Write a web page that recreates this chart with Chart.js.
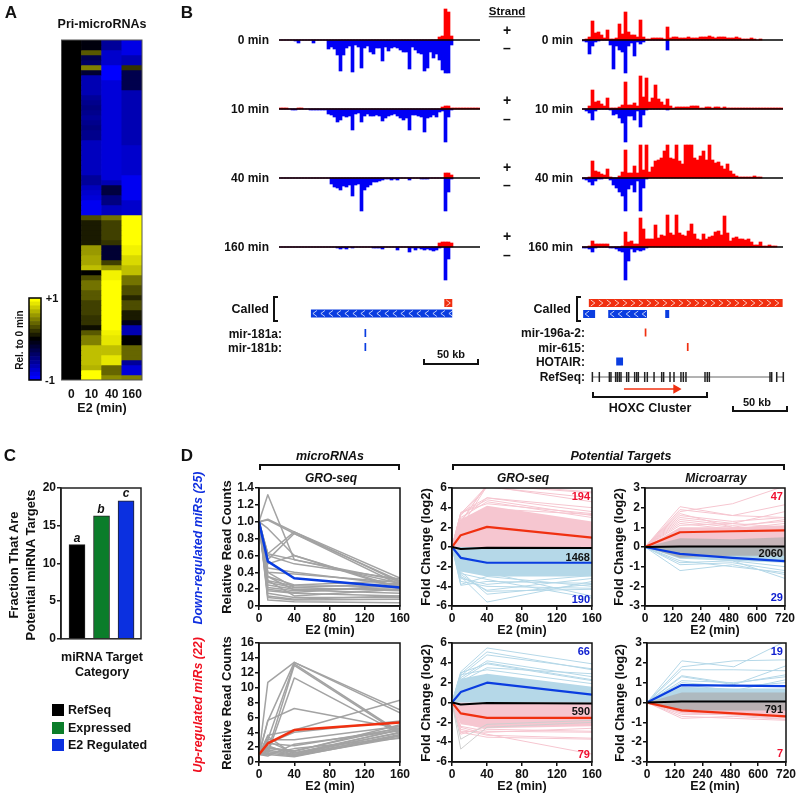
<!DOCTYPE html>
<html>
<head>
<meta charset="utf-8">
<script src="https://cdn.jsdelivr.net/npm/chart.js@4"></script>
<style>
html,body{margin:0;padding:0;background:#fff}
#page{position:relative;width:800px;height:796px;overflow:hidden;font-family:"Liberation Sans",Arial,sans-serif;font-weight:bold;color:#111;filter:blur(.35px)}
canvas{position:absolute}
.t{position:absolute;white-space:nowrap;line-height:1}
.b{position:absolute;border:0 solid #111;box-sizing:border-box}
</style>
</head>
<body>
<div id="page"></div>
<script>
// A: heatmap, 68 rows, values relative to 0 min
const heatCols = ['0', '10', '40', '160'];
const heat10 = [-.05,-.05,.35,-.3,-.4,.5,-.2,-.7,-.7,-.7,-.7,-.6,-.55,-.5,-.55,-.6,-.55,-.5,-.55,-.55,-.75,-.75,-.75,-.75,-.75,-.75,-.75,-.6,-.6,-.75,-.8,-.85,-.95,-.95,-.95,
  .3,.1,.1,.1,.1,.1,.6,.6,.65,.65,.75,0,.3,.45,.45,.35,.35,.25,.25,.25,.2,.2,.05,.35,.5,.5,.75,.75,.75,.75,.7,1,1];
const heat40 = [-.6,-.6,-.8,-.8,-.8,-1,-1,-1,-.85,-.85,-.85,-.85,-.85,-.85,-.85,-.85,-.85,-.85,-.85,-.85,-.85,-.85,-.85,-.85,-.85,-.85,-.85,-.85,-.7,-.25,-.25,-.5,-.5,-.75,-.75,
  .45,.25,.25,.25,.25,.2,-.2,-.2,-.2,.25,.6,.95,.95,1,1,1,1,1,1,1,1,1,1,.95,.9,.9,.75,.75,.9,.9,.4,.4,.55];
const heat160 = [-.9,-.9,-.9,-.7,-.7,.2,-.3,-.3,-.3,-.3,-.7,-.7,-.7,-.7,-.7,-.7,-.7,-.7,-.7,-.7,-.7,-.8,-.8,-.8,-.8,-.8,-.8,-.95,-.95,-.95,-.95,-.95,-.8,-.8,-.8,
  1,1,1,1,1,1,.95,.95,.85,.85,.75,.75,.45,.45,.3,.3,.15,.3,.3,.1,.1,-.1,-.7,-.7,0,0,.4,.4,.4,-.6,-.85,-.85,.5];
const barLevels = [-1,-.9,-.8,-.7,-.6,-.5,-.4,-.3,-.2,-.1,0,.1,.2,.3,.4,.5,.6,.7,.8,.9,1];

// B: read coverage per 3 px bin, in track units
const trackBins = Array.from({length: 67}, (_, i) => i);
const left0Plus = [0,0,0,0,0,0,0,0,0,0,0,0,0,0,0,0,0,0,0,0,0,0,0,0,0,0,0,0,0,0,0,0,0,0,0,0,0,0,0,0,0,0,0,0,0,0,0,0,0,0,0,0,0,3,4,31,28,4];
const left0Minus = [0,0,0,0,0,1,3,0,0,0,0,3,0,0,0,0,9,7,9,15,31,15,8,6,32,5,7,28,8,6,12,14,8,8,21,7,11,8,7,8,10,12,12,29,7,10,13,14,31,28,12,18,14,20,30,33,33,5];
const left10Plus = [1,1,1,0,0,0,1,1,0,0,0,0,0,0,0,0,0,0,0,0,0,0,0,0,0,0,0,0,0,0,0,0,0,0,0,0,0,0,0,0,0,0,0,0,0,0,0,0,0,0,0,0,0,0,2,3,3,1,1,1,1,1,1,1,1,1,1];
const left10Minus = [0,0,0,0,1,1,0,0,0,0,1,1,1,1,1,1,5,6,8,13,11,7,8,7,21,5,4,13,7,5,7,7,6,7,12,9,7,6,5,7,9,11,9,21,6,6,7,8,23,9,8,6,8,3,2,33,8,1];
const left40Plus = [0,0,0,0,0,0,0,0,0,0,0,0,0,0,0,0,0,0,0,0,0,0,0,0,0,0,0,0,0,0,0,0,0,0,0,0,0,0,0,0,0,0,0,0,0,0,0,0,0,0,0,0,0,0,0,5,5,3];
const left40Minus = [0,0,0,0,0,0,0,0,0,0,0,0,0,0,0,0,0,6,9,10,12,8,9,7,18,7,6,33,12,9,7,4,4,3,2,1,1,2,1,2,0,0,0,2,0,0,0,1,1,1,0,0,0,0,0,33,14,1];
const left160Plus = [0,0,0,0,0,0,0,0,0,0,0,0,0,0,0,0,0,0,0,0,0,0,0,0,0,0,0,0,0,0,0,0,0,0,0,0,0,0,0,0,0,0,0,0,0,0,0,0,0,0,0,0,0,4,5,5,5,4];
const left160Minus = [0,0,0,0,0,0,0,0,0,0,0,0,0,0,0,0,0,0,0,1,2,1,2,0,1,0,0,0,0,0,0,1,1,1,2,0,0,0,0,3,0,0,0,5,1,3,1,2,3,2,3,4,3,1,0,33,12];
const right0Plus = [0,1,3,19,7,8,5,2,10,1,1,2,16,6,28,8,5,5,3,20,3,1,1,2,2,2,2,1,13,2,3,3,2,2,2,3,2,2,2,3,3,3,4,3,2,3,3,3,2,2,2,3,2,1,1,1,2,1,0,1];
const right0Minus = [1,2,14,6,2,1,0,0,0,5,29,6,10,12,33,6,3,16,2,4,2,0,0,0,0,0,0,0,10];
const right10Plus = [0,0,3,19,7,8,5,3,11,1,1,1,2,4,27,4,4,6,3,33,12,31,7,11,24,10,7,4,10,3,1,2,2,2,2,2,3,3,3,1,1,2,2,1,2,2,1,2,1,1,1,1,1,1,1,1,1,1,1,1,1,1,1,1,1,1,1];
const right10Minus = [0,2,4,11,2,0,0,0,0,1,6,5,9,14,33,7,7,11,2,18,6,1,0,0,0,0,0,0,1];
const right40Plus = [0,0,1,17,7,6,4,3,9,1,0,0,2,6,28,5,5,12,5,33,8,33,6,11,17,18,20,27,33,20,19,33,17,14,33,33,33,20,18,22,27,18,33,18,15,16,12,9,14,7,4,2,1,1,1,1,1,2,1,1];
const right40Minus = [1,2,4,7,3,1,1,0,0,2,7,10,14,18,33,11,7,14,3,33,10,1];
const right160Plus = [0,0,1,6,3,3,3,3,3,0,0,0,0,1,15,5,6,3,3,29,18,8,8,8,22,9,12,11,32,14,12,32,14,12,11,16,23,13,8,7,13,8,10,11,15,16,12,31,14,6,9,10,8,8,7,8,5,2,2,5,1,1,2,1,1];
const right160Minus = [1,1,2,5,1,0,0,0,0,1,1,2,4,5,33,14,2,5,3,4,3,1];

// B: genome features, positions in kb from the left of each locus
const calledLeftPlus = [[145, 152]];
const calledLeftMinus = [[28, 152]];
const mirLeft = [[75, 76.5]];
const calledRightPlus = [[6, 176]];
const calledRightMinus = [[1, 11.5], [23, 57], [73, 76.5]];
const mir196 = [[55, 56.5]];
const mir615 = [[92, 93.5]];
const hotair = [[30, 36]];
const refseqExons = [9.1,15.2,24,25.4,29.5,31,32.7,34.2,39.2,40.9,46.2,48,49.4,55,57.3,63.2,69.9,71.6,77.2,80.7,86.8,88.9,91.2,107.9,109.9,111.7,164.9,166.4,170.8,176.6];
const refseqIntrons = [[9.1, 166.4], [170.8, 176.6]];
const hoxcArrow = [36.8, 82.5];

// C: bars
const targetCats = ['RefSeq', 'Expressed', 'E2 Regulated'];
const targetVals = [12.5, 16.3, 18.3];
const targetColors = ['#000000', '#0b7d2a', '#0b30e0'];

// D: time axes
const xsGro = [0, 10, 40, 160];
const xsArray = [0, 180, 450, 720];
const arrayTickLabels = ['0', '120', '240', '480', '600', '720'];

// D: microRNA GRO-seq, values at 10, 40, 160 min (all start at 1)
const downMirs = [[1.32,.55,.30],[1.03,.88,.28],[1.02,.86,.25],[.92,.60,.22],[.62,.88,.33],[.55,.86,.30],[.50,.60,.20],[.62,.55,.27],[.60,.50,.32],[.45,.40,.25],[.40,.38,.28],[.35,.25,.30],[.30,.24,.23],[.28,.22,.18],[.25,.20,.20],[.22,.18,.22],[.20,.16,.25],[.18,.15,.12],[.15,.10,.10],[.12,.08,.12],[.10,.07,.08],[.07,.05,.04],[.30,.12,.20],[.40,.22,.27],[.35,.19,.15]];
const downMean = [.53, .33, .22];
const upMirs = [[10.7,13.4,7.0],[5.5,13.4,6.6],[3.0,13.2,4.0],[1.5,13.0,3.8],[1.2,11.3,3.8],[5.6,7.2,4.5],[3.6,4.3,8.3],[2.5,4.0,5.5],[3.0,3.0,4.8],[2.5,2.2,4.5],[1.8,1.4,5.0],[2.0,1.2,4.3],[1.6,1.0,4.0],[1.4,.9,3.6],[1.2,.8,3.3],[1.0,.7,3.5],[2.8,1.2,3.9],[1.9,1.5,4.6],[1.1,1.8,3.2],[.8,2.4,4.2],[3.4,1.0,4.4],[2.2,.9,3.7]];
const upMean = [2.5, 4.3, 5.3];

// D: targets, GRO-seq, down-regulated miRs
const groDownPink = [[3.5,5.0,3.6],[3.4,4.8,3.2],[3.0,4.6,3.0],[3.4,6.2,4.6],[2.5,6.4,5.6],[2.0,6.2,6.2],[2.6,6.3,5.5],[3.2,6.1,5.0],[2.8,5.0,4.0],[3.5,4.4,3.4],[2.2,3.9,3.3]];
const groDownBlue = [[-3.8,-3.0,-4.0],[-3.5,-4.0,-4.2],[-3.0,-5.6,-3.5],[-2.5,-4.8,-3.8],[-3.9,-3.5,-3.7],[-2.8,-4.5,-4.3],[-3.2,-3.8,-2.9],[-2.4,-2.6,-5.0],[-2.7,-3.3,-5.2],[-3.0,-4.4,-3.2]];
const groDownPinkBand = [2.8, 4.2, 2.6];
const groDownBlueBand = [-2.5, -3.0, -3.0];
const groDownMeans = {up: [1.2, 2.05, .95], down: [-1.1, -1.6, -1.6], flat: [-.2, -.08, -.1]};

// D: targets, GRO-seq, up-regulated miRs
const groUpBlue = [[3.1,5.5,3.9],[2.9,5.1,3.3],[2.7,4.8,3.4],[2.5,4.2,2.6],[2.3,4.0,2.3],[3.0,3.9,2.2],[2.1,3.5,2.9],[2.8,3.3,1.9]];
const groUpPink = [[-3,-3.5,-3.7],[-2.7,-3.3,-3.6],[-2.5,-3.2,-5.2],[-2.4,-2.9,-3.0],[-2.9,-3.0,-2.6],[-2.0,-2.7,-2.9],[-3.2,-2.4,-2.2]];
const groUpGray = [[-4.7,-2.5,-2.0],[-3.7,-2.2,-1.8]];
const groUpBlueBand = [2.4, 2.9, 1.6];
const groUpPinkBand = [-2.2, -2.6, -2.4];
const groUpMeans = {up: [1.05, 2.0, .8], down: [-1.1, -1.55, -1.55], flat: [-.2, -.05, -.1]};

// D: targets, microarray, down-regulated miRs
const arrDownPink = [[2.05,1.6,2.15],[1.9,1.6,1.5],[1.8,2.2,3.1],[1.6,1.3,1.5],[1.5,1.2,1.8],[1.4,1.1,1.3],[1.3,1.0,1.4],[1.2,.9,1.2],[1.1,1.2,1.0],[1.7,1.0,.9]];
const arrDownBlue = [[-1.2,-.9,-1.4],[-.8,-.7,-1.6],[-.9,-.8,-1.2],[-.7,-1.0,-1.3],[-.5,-.7,-1.0]];
const arrDownPinkBand = [1.0, 1.0, 1.1];
const arrDownBlueBand = [-.6, -.7, -.8];
const arrDownGrayHigh = [.45, .4, .5];
const arrDownGrayLow = [-.55, -.45, -.45];
const arrDownMeans = {up: [.75, .8, .85], down: [-.35, -.55, -.72], flat: [.02, .02, .03]};

// D: targets, microarray, up-regulated miRs
const arrUpBlue = [[2.1,1.8,3.1],[1.8,2.1,2.15],[1.65,1.65,1.6],[1.3,.9,1.85],[1.35,.95,1.4],[1.1,1.0,1.3],[1.0,.8,1.0],[.9,.6,1.15]];
const arrUpPink = [[-.8,-.7,-.85],[-.6,-.6,-.85],[-.7,-.8,-.9]];
const arrUpBlueBand = [.8, .7, .7];
const arrUpPinkBand = [-.55, -.65, -.8];
const arrUpGrayHigh = [.5, .5, .5];
const arrUpGrayLow = [-.4, -.4, -.4];
const arrUpMeans = {up: [.88, .85, .83], down: [-.4, -.55, -.7], flat: [.05, .05, .05]};

const page = document.getElementById('page');
const RED = '#f03010', BLUE = '#0a3de0', PINK = '#f6c6d0', SKY = '#b5d8e8', GRAY = '#a3a3a3';

Chart.defaults.font.family = '"Liberation Sans", Arial, sans-serif';
Chart.defaults.font.weight = 'bold';
Chart.defaults.font.size = 12;
Chart.defaults.color = '#111';
Chart.defaults.animation = false;
Chart.defaults.responsive = false;
Chart.defaults.layout.autoPadding = false;
Chart.defaults.plugins.legend.display = false;
Chart.defaults.plugins.tooltip.enabled = false;

// box round the plot area and zero line for the tracks
const framePlugin = {
  id: 'frame',
  afterDatasetsDraw(chart, args, o) {
    const a = chart.chartArea, c = chart.ctx;
    c.save();
    if (o.box) {
      c.strokeStyle = o.box;
      c.lineWidth = o.width || 1.5;
      c.strokeRect(a.left, a.top, a.right - a.left, a.bottom - a.top);
    }
    if (o.zero) {
      const y = chart.scales.y.getPixelForValue(0);
      c.strokeStyle = '#000';
      c.lineWidth = 1.5;
      c.beginPath();
      c.moveTo(a.left, y);
      c.lineTo(a.right, y);
      c.stroke();
    }
    c.restore();
  }
};

// white chevrons on the called regions
const chevronPlugin = {
  id: 'chevrons',
  afterDatasetsDraw(chart) {
    const c = chart.ctx;
    chart.data.datasets.forEach((d, i) => {
      if (!d.chevron) return;
      const pts = chart.getDatasetMeta(i).data;
      const x0 = pts[0].x, x1 = pts[1].x, y = pts[0].y;
      c.save();
      c.strokeStyle = 'rgba(255,255,255,.75)';
      c.lineWidth = 1;
      for (let x = x0 + 4; x < x1 - 1; x += 8) {
        c.beginPath();
        c.moveTo(x - d.chevron * 2, y - 3);
        c.lineTo(x + d.chevron * 2, y);
        c.lineTo(x - d.chevron * 2, y + 3);
        c.stroke();
      }
      c.restore();
    });
  }
};

function place(x, y, w, h, m) {
  const cv = document.createElement('canvas');
  cv.width = w + m.l + m.r;
  cv.height = h + m.t + m.b;
  cv.style.left = (x - m.l) + 'px';
  cv.style.top = (y - m.t) + 'px';
  page.appendChild(cv);
  return cv;
}

function text(s, x, y, o = {}) {
  const el = document.createElement('div');
  el.className = 't';
  el.textContent = s;
  el.style.left = x + 'px';
  el.style.top = y + 'px';
  el.style.fontSize = (o.size || 12) + 'px';
  if (o.color) el.style.color = o.color;
  if (o.italic) el.style.fontStyle = 'italic';
  if (o.under) el.style.textDecoration = 'underline';
  const tx = o.anchor === 'r' ? '-100%' : o.anchor === 'l' ? '0' : '-50%';
  el.style.transform = `translate(${tx},-50%)` + (o.rot ? ' rotate(-90deg)' : '');
  page.appendChild(el);
}

function bracket(x, y, w, h, sides) {
  const el = document.createElement('div');
  el.className = 'b';
  Object.assign(el.style, {left: x + 'px', top: y + 'px', width: w + 'px', height: h + 'px'});
  sides.split(' ').forEach(s => { el.style['border' + s + 'Width'] = '2px'; });
  page.appendChild(el);
}

function heatColor(v) {
  const k = Math.round(Math.abs(v) * 255);
  return v < 0 ? `rgb(0,0,${k})` : `rgb(${k},${k},0)`;
}

// panel A
function drawHeatmap() {
  const m = {l: 0, t: 1, r: 12, b: 22};
  const zeros = heat10.map(() => 0);
  const rows = heat10.map((_, r) => ({
    data: heatCols.map(() => 1),
    backgroundColor: [zeros[r], heat10[r], heat40[r], heat160[r]].map(heatColor),
    barPercentage: 1, categoryPercentage: 1, borderWidth: 0, borderSkipped: false
  }));
  new Chart(place(61, 40, 81, 340, m), {
    type: 'bar',
    data: {labels: heatCols, datasets: rows},
    options: {
      layout: {padding: {top: m.t, right: m.r}},
      scales: {
        x: {stacked: true, grid: {display: false, drawTicks: false}, border: {display: false}, ticks: {padding: 7, autoSkip: false, maxRotation: 0}, afterFit(s) { s.height = m.b; }},
        y: {stacked: true, display: false, reverse: true, min: 0, max: heat10.length}
      },
      plugins: {frame: {box: '#555', width: 1}}
    },
    plugins: [framePlugin]
  });
  new Chart(place(29, 298, 12, 82, {l: 1, t: 1, r: 1, b: 1}), {
    type: 'bar',
    data: {labels: ['scale'], datasets: barLevels.map(v => ({
      data: [1], backgroundColor: heatColor(v), barPercentage: 1, categoryPercentage: 1, borderWidth: 0
    }))},
    options: {
      layout: {padding: 1},
      scales: {x: {stacked: true, display: false}, y: {stacked: true, display: false, min: 0, max: barLevels.length}},
      plugins: {frame: {box: '#000', width: 1.5}}
    },
    plugins: [framePlugin]
  });
}

// panel B coverage track
function drawTrack(x, base, plus, minus) {
  const bar = (data, color) => ({data, backgroundColor: color, barPercentage: 1, categoryPercentage: 1, borderWidth: 0, grouped: false});
  new Chart(place(x, base - 34, 201, 68, {l: 0, t: 0, r: 0, b: 0}), {
    type: 'bar',
    data: {labels: trackBins, datasets: [bar(plus, '#ff0000'), bar(minus.map(v => -v), '#0000f5')]},
    options: {
      scales: {x: {display: false}, y: {display: false, min: -34, max: 34}},
      plugins: {frame: {zero: true}}
    },
    plugins: [framePlugin]
  });
}

const thick = (ranges, lane, color, chevron) => ranges.map(r => ({
  data: [{x: r[0], y: lane}, {x: r[1], y: lane}],
  showLine: true, borderColor: color, borderWidth: 8, borderCapStyle: 'butt', pointRadius: 0, chevron
}));

function drawGenes(x, w, datasets) {
  new Chart(place(x, 295, w, 100, {l: 0, t: 0, r: 0, b: 0}), {
    type: 'scatter',
    data: {datasets},
    options: {
      scales: {x: {display: false, min: 0, max: w / 1.14}, y: {display: false, reverse: true, min: 0, max: 10}}
    },
    plugins: [chevronPlugin]
  });
}

// panel C
function drawTargets() {
  const m = {l: 24, t: 10, r: 2, b: 4};
  new Chart(place(61, 488, 80, 155, m), {
    type: 'bar',
    data: {datasets: [{
      data: targetVals.map((v, i) => ({x: i + 1, y: v})),
      backgroundColor: targetColors, borderColor: '#222', borderWidth: 1, barThickness: 16
    }]},
    options: {
      layout: {padding: {top: m.t, right: m.r, bottom: m.b}},
      scales: {
        x: {type: 'linear', display: false, offset: false, min: .347, max: 3.61},
        y: {min: 0, max: 20, grid: {drawOnChartArea: false, color: '#222', lineWidth: 1.5, tickLength: 4}, border: {color: '#222', width: 1.5},
          ticks: {stepSize: 5, padding: 1, autoSkip: false}, afterFit(s) { s.width = m.l; }}
      },
      plugins: {frame: {box: '#222', width: 1.5}}
    },
    plugins: [framePlugin]
  });
}

// panel D line charts
function lineSet(xs, start, ys, color, width) {
  return {
    data: [start, ...ys].map((y, i) => ({x: xs[i], y})),
    showLine: true, borderColor: color, borderWidth: width, pointRadius: 0, borderJoinStyle: 'round'
  };
}
function bandSet(xs, ys, color) {
  return {
    data: [0, ...ys].map((y, i) => ({x: xs[i], y})),
    showLine: true, borderWidth: 0, borderColor: color, backgroundColor: color, fill: 'origin', pointRadius: 0
  };
}

function drawLines(x, y, w, h, xAxis, yAxis, datasets) {
  const m = {l: 31, t: 9, r: 16, b: 20};
  new Chart(place(x, y, w, h, m), {
    type: 'scatter',
    data: {datasets},
    options: {
      layout: {padding: {top: m.t, right: m.r}},
      scales: {
        x: Object.assign({
          grid: {drawOnChartArea: false, color: '#111', lineWidth: 1.5, tickLength: 4}, border: {color: '#111', width: 1.5},
          afterFit(s) { s.height = m.b; }
        }, xAxis),
        y: {
          min: yAxis.min, max: yAxis.max,
          grid: {drawOnChartArea: false, color: '#111', lineWidth: 1.5, tickLength: 4}, border: {color: '#111', width: 1.5},
          ticks: {stepSize: yAxis.step, padding: 1, autoSkip: false, callback: yAxis.fmt || (v => v)},
          afterFit(s) { s.width = m.l; }
        }
      },
      plugins: {frame: {box: '#111', width: 1.5}}
    },
    plugins: [framePlugin]
  });
}

const groAxis = {min: 0, max: 160, ticks: {stepSize: 40, padding: 1, maxRotation: 0}};
const microAxis = {min: 0, max: 720,
  afterBuildTicks(s) { s.ticks = arrayTickLabels.map((_, i) => ({value: i * 144})); },
  ticks: {padding: 1, autoSkip: false, maxRotation: 0, callback: (v, i) => arrayTickLabels[i]}};

function targetSets(xs, means, topColor, bottomColor, tops, bottoms, topBand, bottomBand, grayHigh, grayLow, extra) {
  const topMean = topColor === 'pink' ? RED : BLUE;
  const bottomMean = topColor === 'pink' ? BLUE : RED;
  const tint = c => c === 'pink' ? PINK : SKY;
  const sets = [
    lineSet(xs, 0, means.flat, '#000', 2),
    lineSet(xs, 0, means.up, topMean, 2.2),
    lineSet(xs, 0, means.down, bottomMean, 2.2)
  ];
  if (grayHigh) {
    sets.push(bandSet(xs, grayHigh, 'rgba(170,170,170,.65)'), bandSet(xs, grayLow, 'rgba(170,170,170,.8)'));
  }
  (extra || []).forEach(l => sets.push(lineSet(xs, 0, l, '#cfcfcf', 1)));
  tops.forEach(l => sets.push(lineSet(xs, 0, l, tint(topColor), 1)));
  bottoms.forEach(l => sets.push(lineSet(xs, 0, l, tint(bottomColor), 1)));
  sets.push(bandSet(xs, topBand, tint(topColor)), bandSet(xs, bottomBand, tint(bottomColor)));
  return sets;
}

drawHeatmap();

[[40, left0Plus, left0Minus, right0Plus, right0Minus],
 [109, left10Plus, left10Minus, right10Plus, right10Minus],
 [178, left40Plus, left40Minus, right40Plus, right40Minus],
 [247, left160Plus, left160Minus, right160Plus, right160Minus]].forEach(t => {
  drawTrack(279, t[0], t[1], t[2]);
  drawTrack(582, t[0], t[3], t[4]);
});

drawGenes(279, 202, [
  ...thick(calledLeftPlus, .8, RED, 1),
  ...thick(calledLeftMinus, 1.85, BLUE, -1),
  ...thick(mirLeft, 3.8, BLUE),
  ...thick(mirLeft, 5.2, BLUE)
]);
drawGenes(582, 208, [
  ...thick(calledRightPlus, .8, RED, 1),
  ...thick(calledRightMinus, 1.9, BLUE, -1),
  ...thick(mir196, 3.75, RED),
  ...thick(mir615, 5.2, RED),
  ...thick(hotair, 6.65, BLUE),
  {data: refseqExons.map(x => ({x, y: 8.2})), pointStyle: 'line', rotation: 90, radius: 5, borderColor: '#222', borderWidth: 1.5, backgroundColor: '#222'},
  ...refseqIntrons.map(r => ({data: [{x: r[0], y: 8.2}, {x: r[1], y: 8.2}], showLine: true, borderColor: '#666', borderWidth: 1, pointRadius: 0})),
  {data: [{x: hoxcArrow[0], y: 9.4}, {x: hoxcArrow[1], y: 9.4}], showLine: true, borderColor: RED, borderWidth: 1.5,
    pointStyle: 'triangle', rotation: 90, pointRadius: [0, 4], backgroundColor: RED, pointBorderColor: RED}
]);

drawTargets();

const tenthFmt = v => v === 0 ? '0' : v.toFixed(1);
drawLines(259, 488, 141, 118, groAxis, {min: 0, max: 1.4, step: .2, fmt: tenthFmt}, [
  lineSet(xsGro, 1, downMean, BLUE, 2.5),
  ...downMirs.map(l => lineSet(xsGro, 1, l, GRAY, 1.5))
]);
drawLines(259, 643, 141, 119, groAxis, {min: 0, max: 16, step: 2}, [
  lineSet(xsGro, 1, upMean, RED, 2.5),
  ...upMirs.map(l => lineSet(xsGro, 1, l, GRAY, 1.5))
]);
drawLines(452, 488, 140, 118, groAxis, {min: -6, max: 6, step: 2},
  targetSets(xsGro, groDownMeans, 'pink', 'sky', groDownPink, groDownBlue, groDownPinkBand, groDownBlueBand));
drawLines(452, 643, 140, 119, groAxis, {min: -6, max: 6, step: 2},
  targetSets(xsGro, groUpMeans, 'sky', 'pink', groUpBlue, groUpPink, groUpBlueBand, groUpPinkBand, null, null, groUpGray));
drawLines(645, 488, 140, 118, microAxis, {min: -3, max: 3, step: 1},
  targetSets(xsArray, arrDownMeans, 'pink', 'sky', arrDownPink, arrDownBlue, arrDownPinkBand, arrDownBlueBand, arrDownGrayHigh, arrDownGrayLow));
drawLines(647, 643, 139, 119, microAxis, {min: -3, max: 3, step: 1},
  targetSets(xsArray, arrUpMeans, 'sky', 'pink', arrUpBlue, arrUpPink, arrUpBlueBand, arrUpPinkBand, arrUpGrayHigh, arrUpGrayLow));

// panel letters
text('A', 11, 12, {size: 17});
text('B', 187, 12, {size: 17});
text('C', 10, 455, {size: 17});
text('D', 187, 455, {size: 17});

// A text
text('Pri-microRNAs', 102, 24, {size: 12.5});
text('E2 (min)', 102, 408, {size: 12.5});
text('Rel. to 0 min', 20, 340, {size: 10, rot: true});
text('+1', 52, 298, {size: 11});
text('-1', 50, 380, {size: 11});

// B text
text('Strand', 507, 12, {size: 11.5, under: true});
[['0 min', 40, 30, 48], ['10 min', 109, 100, 119], ['40 min', 178, 167, 185], ['160 min', 247, 236, 255]].forEach(r => {
  text(r[0], 269, r[1], {size: 12, anchor: 'r'});
  text(r[0], 573, r[1], {size: 12, anchor: 'r'});
  text('+', 507, r[2], {size: 14});
  text('–', 507, r[3], {size: 14});
});
text('Called', 269, 309, {size: 12.5, anchor: 'r'});
text('mir-181a:', 282, 334, {size: 12, anchor: 'r'});
text('mir-181b:', 282, 348, {size: 12, anchor: 'r'});
text('50 kb', 451, 354, {size: 11});
text('Called', 571, 309, {size: 12.5, anchor: 'r'});
text('mir-196a-2:', 585, 333, {size: 12, anchor: 'r'});
text('mir-615:', 585, 348, {size: 12, anchor: 'r'});
text('HOTAIR:', 585, 362, {size: 12, anchor: 'r'});
text('RefSeq:', 585, 377, {size: 12, anchor: 'r'});
text('HOXC Cluster', 650, 408, {size: 12.5});
text('50 kb', 757, 402, {size: 11});
bracket(273, 296, 5, 26, 'Left Top Bottom');
bracket(576, 296, 5, 26, 'Left Top Bottom');
bracket(423, 359, 56, 6, 'Left Right Bottom');
bracket(592, 392, 116, 6, 'Left Right Bottom');
bracket(732, 406, 56, 6, 'Left Right Bottom');

// C text
text('a', 77, 538, {size: 12, italic: true});
text('b', 101, 509, {size: 12, italic: true});
text('c', 126, 493, {size: 12, italic: true});
text('Fraction That Are', 13, 565, {size: 13, rot: true});
text('Potential miRNA Targets', 30, 565, {size: 13, rot: true});
text('miRNA Target', 102, 657, {size: 12.5});
text('Category', 102, 672, {size: 12.5});
targetCats.forEach((c, i) => {
  const y = [710, 728, 745][i];
  const sw = document.createElement('div');
  sw.className = 'b';
  Object.assign(sw.style, {left: '52px', top: (y - 6) + 'px', width: '12px', height: '12px', background: targetColors[i]});
  page.appendChild(sw);
  text(c, 68, y, {size: 12.5, anchor: 'l'});
});

// D text
text('microRNAs', 330, 456, {size: 12.5, italic: true});
text('Potential Targets', 621, 456, {size: 12.5, italic: true});
text('GRO-seq', 331, 478, {size: 12, italic: true});
text('GRO-seq', 523, 478, {size: 12, italic: true});
text('Microarray', 716, 478, {size: 12, italic: true});
bracket(259, 464, 141, 6, 'Top Left Right');
bracket(452, 464, 333, 6, 'Top Left Right');
text('Down-regulated miRs (25)', 198, 548, {size: 12.4, italic: true, color: '#1030e0', rot: true});
text('Up-regulated miRs (22)', 198, 705, {size: 12.4, italic: true, color: '#f01020', rot: true});
[[226, 'Relative Read Counts'], [425, 'Fold Change (log2)'], [618, 'Fold Change (log2)']].forEach(c => {
  text(c[1], c[0], 547, {size: 13, rot: true});
  text(c[1], c[0] + (c[0] === 618 ? 1 : 0), 703, {size: 13, rot: true});
});
[330, 522, 715].forEach(x => {
  text('E2 (min)', x, 630, {size: 12.5});
  text('E2 (min)', x, 786, {size: 12.5});
});
const RED_T = '#f01030', BLUE_T = '#1020d0';
[['194', 590, 496, RED_T], ['1468', 590, 557, '#111'], ['190', 590, 599, BLUE_T],
 ['66', 590, 651, BLUE_T], ['590', 590, 711, '#111'], ['79', 590, 754, RED_T],
 ['47', 783, 496, RED_T], ['2060', 783, 553, '#111'], ['29', 783, 597, BLUE_T],
 ['19', 783, 651, BLUE_T], ['791', 783, 709, '#111'], ['7', 783, 753, RED_T]].forEach(n => {
  text(n[0], n[1], n[2], {size: 11, anchor: 'r', color: n[3]});
});
</script>
</body>
</html>
